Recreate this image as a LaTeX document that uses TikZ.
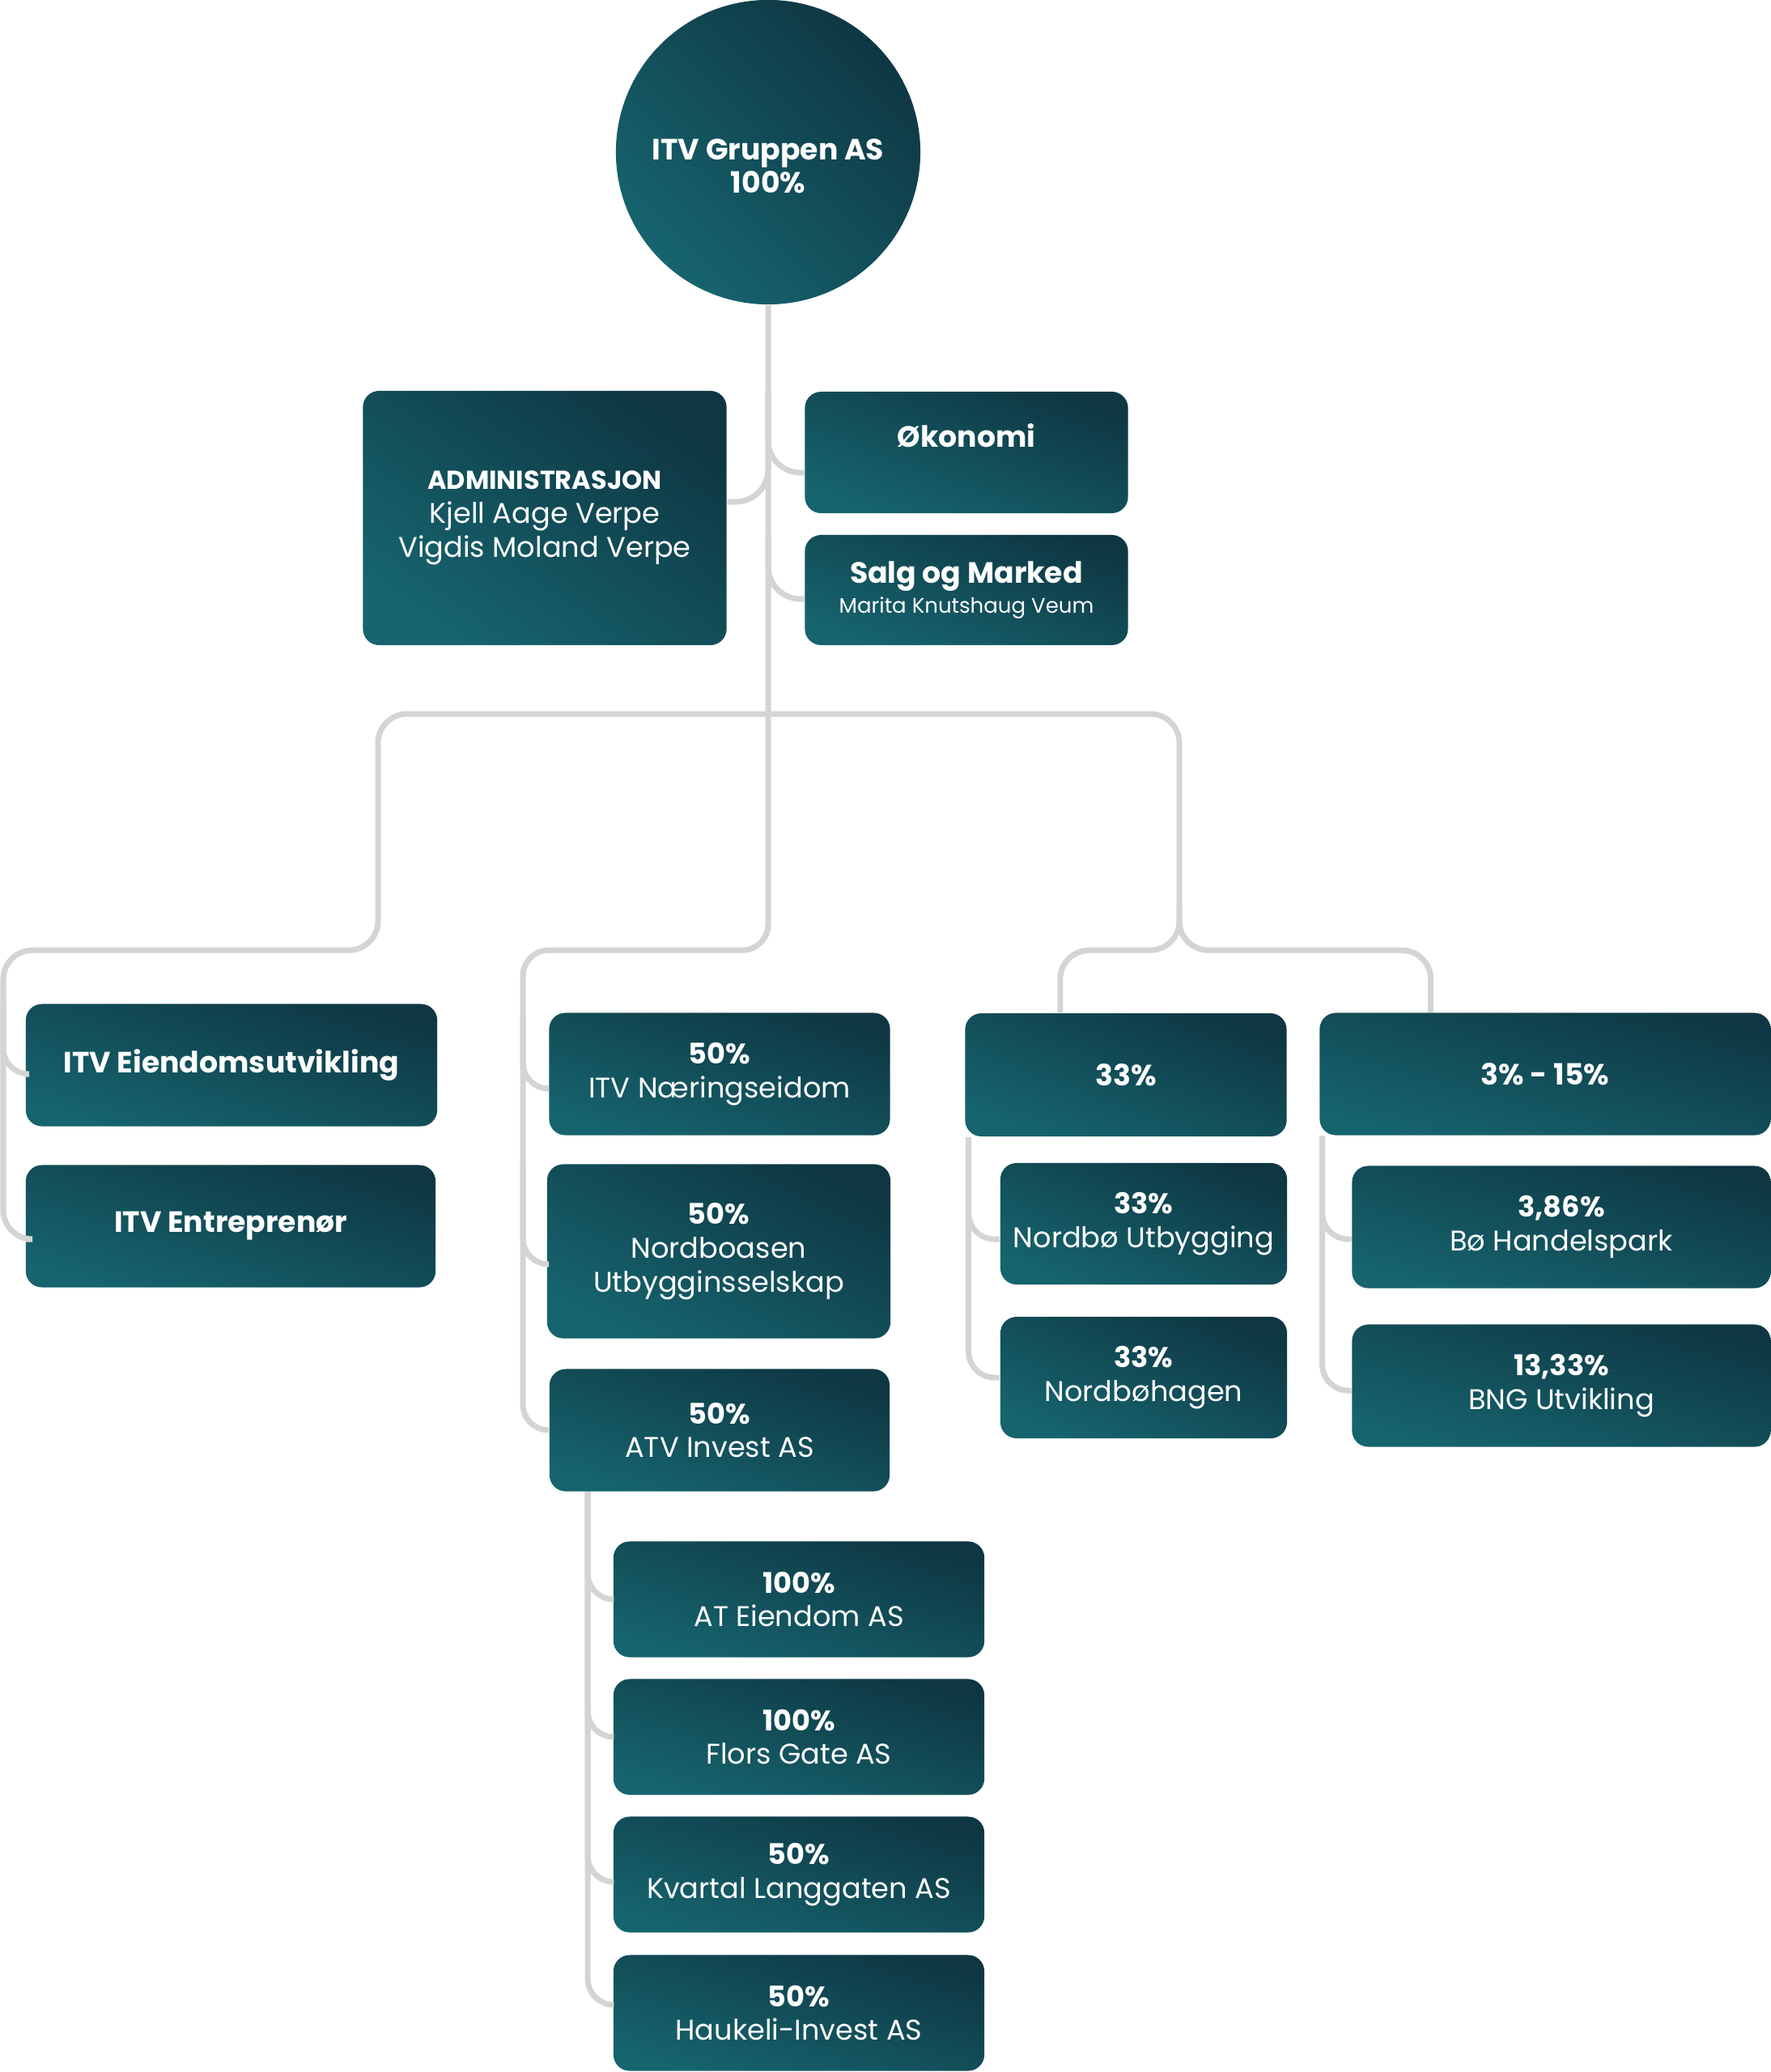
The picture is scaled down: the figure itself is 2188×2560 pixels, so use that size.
\documentclass[tikz,border=0pt]{standalone}
\usepackage{fontspec}
\setmainfont{Poppins}
\usetikzlibrary{calc}
\definecolor{itvdark}{HTML}{0E3743}
\definecolor{itvlight}{HTML}{16646E}
\definecolor{linegray}{HTML}{D4D4D4}
\tikzset{
  unit/.style={rounded corners=0.2cm, top color=itvdark, bottom color=itvlight,
    shading angle=-18, text=white, align=center, inner sep=0pt,
    font=\fontsize{10}{11.9}\selectfont},
  boldunit/.style={unit, font=\fontsize{10.3}{11.9}\selectfont\bfseries},
  link/.style={draw=linegray, line width=0.07cm, rounded corners=0.32cm},
}
\begin{document}
\begin{tikzpicture}[x=0.01cm, y=-0.01cm]
\useasboundingbox (0,0) rectangle (2188,2560);
% top
\node[unit, circle, minimum size=3.76cm, shading angle=-45] (root) at (949,188) {};
\node[text=white, align=center, font=\fontsize{10.3}{11.7}\selectfont\bfseries] (roottext) at ([yshift=-0.17cm]root.center) {ITV Gruppen AS\\100\%};
\node[unit, minimum width=4.49cm, minimum height=3.14cm, shading angle=-35] (admin) at (673,640) {{\fontsize{9.1}{11.9}\selectfont\bfseries ADMINISTRASJON}\\Kjell Aage Verpe\\Vigdis Moland Verpe};
\node[boldunit, minimum width=3.99cm, minimum height=1.50cm, shading angle=-20] (oko) at (1194,559) {Økonomi\\\mbox{}};
\node[unit, minimum width=3.99cm, minimum height=1.36cm, shading angle=-20] (salg) at (1194,729) {{\fontsize{10.3}{10}\selectfont\bfseries Salg og Marked}\\[-1.5pt]{\fontsize{7.4}{8}\selectfont Marita Knutshaug Veum}};
% left
\node[boldunit, minimum width=5.08cm, minimum height=1.51cm, shading angle=-17] (eiend) at (286,1316) {ITV Eiendomsutvikling};
\node[boldunit, minimum width=5.06cm, minimum height=1.51cm, shading angle=-17] (entr) at (285,1515) {ITV Entreprenør};
% middle
\node[unit, minimum width=4.21cm, minimum height=1.51cm] (naer) at (889,1327) {\textbf{50\%}\\ITV Næringseidom};
\node[unit, minimum width=4.24cm, minimum height=2.15cm, shading angle=-27] (nordb) at (888,1546) {\textbf{50\%}\\Nordboasen\\Utbygginsselskap};
\node[unit, minimum width=4.20cm, minimum height=1.51cm] (atv) at (889,1767) {\textbf{50\%}\\ATV Invest AS};
\node[unit, minimum width=4.58cm, minimum height=1.43cm, shading angle=-17] (ateien) at (987,1976) {\textbf{100\%}\\AT Eiendom AS};
\node[unit, minimum width=4.58cm, minimum height=1.43cm, shading angle=-17] (flors) at (987,2146) {\textbf{100\%}\\Flors Gate AS};
\node[unit, minimum width=4.58cm, minimum height=1.43cm, shading angle=-17] (kvartal) at (987,2316) {\textbf{50\%}\\Kvartal Langgaten AS};
\node[unit, minimum width=4.58cm, minimum height=1.43cm, shading angle=-17] (haukeli) at (987,2487) {\textbf{50\%}\\Haukeli-Invest AS};
% right
\node[boldunit, minimum width=3.97cm, minimum height=1.52cm, shading angle=-21] (p33) at (1391,1328) {33\%};
\node[boldunit, minimum width=5.57cm, minimum height=1.51cm, shading angle=-15] (p315) at (1909,1327) {3\% - 15\%};
\node[unit, minimum width=3.54cm, minimum height=1.50cm, shading angle=-23] (nbu) at (1413,1512) {\textbf{33\%}\\Nordbø Utbygging};
\node[unit, minimum width=3.54cm, minimum height=1.50cm, shading angle=-23] (nbh) at (1413,1702) {\textbf{33\%}\\Nordbøhagen};
\node[unit, minimum width=5.17cm, minimum height=1.51cm, shading angle=-16] (boh) at (1929,1516) {\textbf{3,86\%}\\Bø Handelspark};
\node[unit, minimum width=5.17cm, minimum height=1.51cm, shading angle=-16] (bng) at (1929,1712) {\textbf{13,33\%}\\BNG Utvikling};
% spines
\coordinate (bus) at (950,882);
\coordinate (lknee) at (467,1174);
\coordinate (rknee) at (1457,1174);
\coordinate (lspine) at (4,1174);
\coordinate (mspine) at (646,1174);
\coordinate (aspine) at ([xshift=0.48cm]atv.south west);
\coordinate (cspine) at ([xshift=0.05cm]p33.south west);
\coordinate (dspine) at ([xshift=0.04cm]p315.south west);
% connectors
\draw[link] (root.south) |- (mspine) |- (atv.west);
\draw[link, rounded corners=0.4cm] (root.south |- oko.north) |- ([yshift=-0.25cm]oko.west);
\draw[link, rounded corners=0.4cm] (root.south |- salg.north) |- ([yshift=-0.11cm]salg.west);
\draw[link, rounded corners=0.4cm] (root.south |- admin.north) |- ([yshift=0.2cm]admin.east);
\draw[link, rounded corners=0.36cm] (bus) -| (lknee) -| ([yshift=-0.16cm]lspine |- entr.west) -- ([yshift=-0.16cm]entr.west);
\draw[link] (lspine |- eiend.north) |- ([yshift=-0.11cm]eiend.west);
\draw[link] (mspine |- naer.north) |- ([yshift=-0.18cm]naer.west);
\draw[link] (mspine |- nordb.north) |- ([yshift=-0.16cm]nordb.west);
\draw[link] (aspine) |- (ateien.west);
\draw[link] (aspine) |- (flors.west);
\draw[link] (aspine) |- ([yshift=-0.09cm]kvartal.west);
\draw[link] (aspine) |- ([yshift=0.1cm]haukeli.west);
\draw[link, rounded corners=0.36cm] (bus) -| (rknee) -| ([xshift=1.18cm]p33.north west);
\draw[link, rounded corners=0.36cm] ([yshift=0.5cm]rknee) -- (rknee) -| ([xshift=1.38cm]p315.north west);
\draw[link] (cspine) |- ([yshift=-0.19cm]nbu.west);
\draw[link] (cspine) |- (nbh.west);
\draw[link] (dspine) |- ([yshift=-0.15cm]boh.west);
\draw[link] (dspine) |- ([yshift=-0.06cm]bng.west);
\end{tikzpicture}
\end{document}
